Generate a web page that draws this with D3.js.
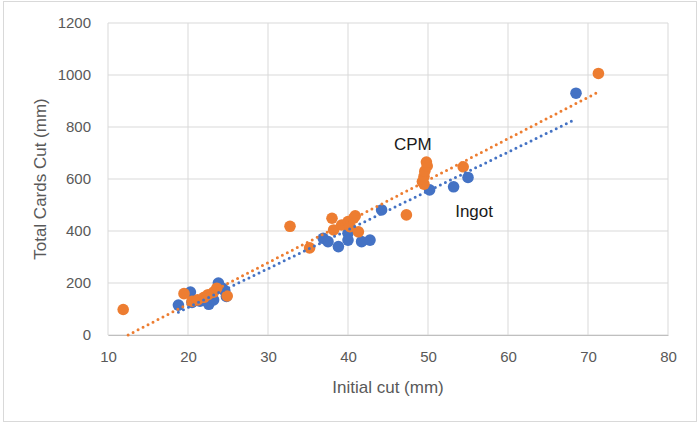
<!DOCTYPE html>
<html><head><meta charset="utf-8">
<script src="https://cdn.jsdelivr.net/npm/d3@7"></script>
<style>body{margin:0;background:#fff}svg{display:block}</style>
</head><body>
<svg id="c" width="700" height="425"></svg>
<script>
// Data
const ingotX = [18.8,20.3,20.5,21.5,22.1,22.6,23.2,23.8,24.3,24.6,24.8,36.9,37.5,38.8,40.0,40.0,41.7,42.75,44.2,50.2,53.2,55.0,68.5];
const ingotY = [115,165,125,130,135,118,135,200,180,170,148,372,359,340,391,365,359,365,481,558,570,606,930];
const cpmX = [11.9,19.5,20.5,21.2,22.0,22.5,23.2,23.6,24.9,32.75,35.2,38.0,38.2,39.2,40.0,40.25,40.7,40.9,41.3,47.3,49.3,49.5,49.5,49.6,49.9,49.8,54.4,71.3];
const cpmY = [98,159,130,135,145,155,165,180,150,418,335,449,404,423,436,417,449,458,397,462,590,580,610,630,650,665,647,1006];
// trendline slope / intercept
const ingotTrend = [14.94, -193];
const cpmTrend = [15.9, -199];
const xTicks = [10,20,30,40,50,60,70,80];
const yTicks = [0,200,400,600,800,1000,1200];
const labels = [{t:"CPM", x:45.75, y:710}, {t:"Ingot", x:53.4, y:455}];

const svg = d3.select("#c");
const font = "'Liberation Sans', Arial, sans-serif";
svg.append("rect").attr("x",3.5).attr("y",1.5).attr("width",693).attr("height",420)
  .attr("fill","#fff").attr("stroke","#d9d9d9");

const x = d3.scaleLinear().domain([10,80]).range([108,668]);
const y = d3.scaleLinear().domain([0,1200]).range([335,23]);

const g = svg.append("g");
g.selectAll("line.v").data(xTicks).join("line")
  .attr("x1",d=>x(d)).attr("x2",d=>x(d)).attr("y1",y(0)).attr("y2",y(1200))
  .attr("stroke","#d9d9d9").attr("stroke-width",1);
g.selectAll("line.h").data(yTicks).join("line")
  .attr("y1",d=>y(d)).attr("y2",d=>y(d)).attr("x1",x(10)).attr("x2",x(80))
  .attr("stroke","#d9d9d9").attr("stroke-width",1);

const xa = svg.append("g").attr("transform",`translate(0,${y(0)})`)
  .call(d3.axisBottom(x).tickValues(xTicks).tickFormat(d3.format("d")).tickSize(0).tickPadding(16));
const ya = svg.append("g").attr("transform",`translate(${x(10)},0)`)
  .call(d3.axisLeft(y).tickValues(yTicks).tickFormat(d3.format("d")).tickSize(0).tickPadding(17));
[xa,ya].forEach(a=>{
  a.select(".domain").attr("stroke","#bfbfbf");
  a.selectAll("text").attr("font-family",font).attr("font-size",15).attr("fill","#595959");
});
ya.select(".domain").remove();

function pts(xs, ys, color){
  svg.append("g").selectAll("circle").data(xs.map((v,i)=>[v,ys[i]])).join("circle")
    .attr("cx",d=>x(d[0])).attr("cy",d=>y(d[1])).attr("r",5.8).attr("fill",color);
}
pts(ingotX, ingotY, "#4472C4");
pts(cpmX, cpmY, "#ED7D31");

function trend(xs, p, color){
  let x0 = d3.min(xs), x1 = d3.max(xs);
  const f = v => p[0]*v + p[1];
  if (f(x0) < 0) x0 = -p[1]/p[0];
  svg.append("line").attr("x1",x(x0)).attr("y1",y(f(x0))).attr("x2",x(x1)).attr("y2",y(f(x1)))
    .attr("stroke",color).attr("stroke-width",3).attr("stroke-linecap","round")
    .attr("stroke-dasharray","0,5.6");
}
trend(ingotX, ingotTrend, "#4472C4");
trend(cpmX, cpmTrend, "#ED7D31");

svg.selectAll("text.lab").data(labels).join("text")
  .attr("x",d=>x(d.x)).attr("y",d=>y(d.y)).attr("font-family",font).attr("font-size",17)
  .attr("fill","#1a1a1a").attr("text-anchor","start").text(d=>d.t);

svg.append("text").attr("x",388).attr("y",393).attr("text-anchor","middle")
  .attr("font-family",font).attr("font-size",17).attr("fill","#595959").text("Initial cut (mm)");
svg.append("text").attr("transform","translate(46,179) rotate(-90)").attr("text-anchor","middle")
  .attr("font-family",font).attr("font-size",17).attr("fill","#595959").text("Total Cards Cut (mm)");
</script>
</body></html>
